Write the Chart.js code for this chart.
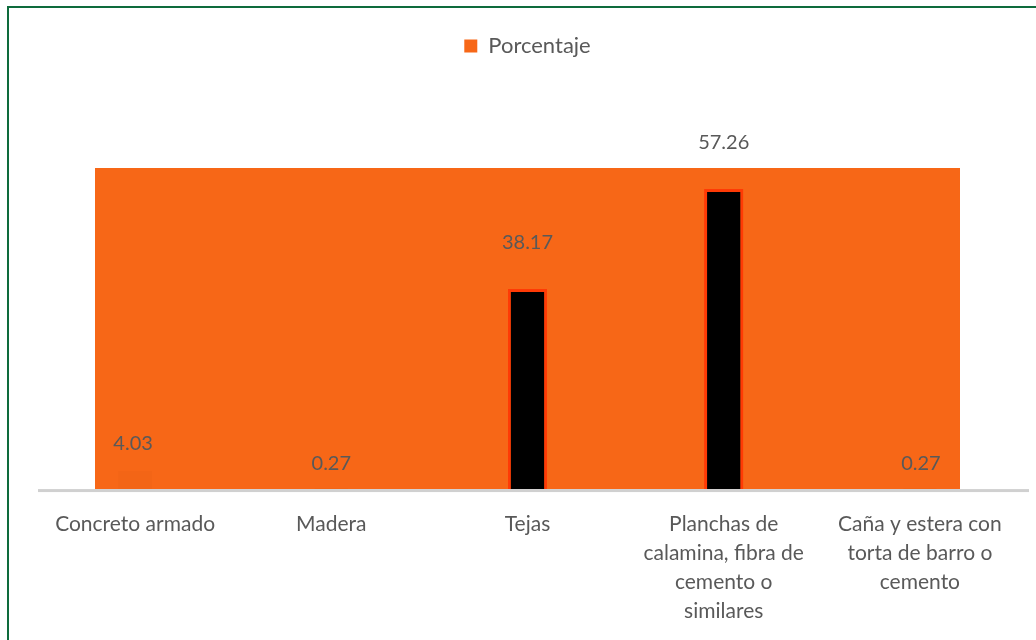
<!DOCTYPE html>
<html>
<head>
<meta charset="utf-8">
<script src="https://cdn.jsdelivr.net/npm/chart.js@4/dist/chart.umd.min.js"></script>
<style>
    html, body { margin: 0; padding: 0; background: #fff; }
    #wrap { position: relative; width: 1036px; height: 640px; overflow: hidden; }
    #frame {
        position: absolute; left: 7px; top: 6px; width: 1100px; height: 700px;
        border: 2px solid #0e6b3c; box-sizing: border-box;
    }
    canvas { position: absolute; left: 0; top: 0; }
</style>
</head>
<body>
<div id="wrap">
    <div id="frame"></div>
    <canvas id="roof-chart" width="1036" height="640"></canvas>
</div>
<script>
const categories = [
    'Concreto armado',
    'Madera',
    'Tejas',
    ['Planchas de', 'calamina, fibra de', 'cemento o', 'similares'],
    ['Caña y estera con', 'torta de barro o', 'cemento']
];
const porcentaje = [4.03, 0.27, 38.17, 57.26, 0.27];
const yMax = 61.25;

const labelColor = '#595959';
const fontFamily = 'Lato, "Open Sans", sans-serif';

// orange plot area fill, grey baseline, value labels
const chartDecor = {
    id: 'chartDecor',
    beforeInit(chart) {
        const fit = chart.legend.fit;
        chart.legend.fit = function() {
            fit.bind(chart.legend)();
            this.height += 101;
        };
    },
    beforeDatasetsDraw(chart) {
        const { ctx, chartArea: a } = chart;
        ctx.save();
        ctx.fillStyle = '#f76717';
        ctx.fillRect(a.left + 58, a.top, a.right - a.left - 116, a.bottom - a.top);
        ctx.restore();
    },
    afterDatasetsDraw(chart) {
        const { ctx, chartArea: a } = chart;
        ctx.save();
        ctx.fillStyle = '#d0d0d0';
        ctx.fillRect(a.left + 1, a.bottom, a.right - a.left + 10, 3);

        const meta = chart.getDatasetMeta(0);
        ctx.font = '20px ' + fontFamily;
        ctx.fillStyle = labelColor;
        ctx.textAlign = 'center';
        ctx.textBaseline = 'middle';
        meta.data.forEach((bar, i) => {
            const h = bar.base - bar.y;
            const off = h > 50 ? 46 : 24;
            let x = bar.x;
            if (i === 0) x = bar.x - 2;
            if (i === 4) x = bar.x + 1;
            ctx.fillText(porcentaje[i].toFixed(2), x, bar.y - off);
        });
        ctx.restore();
    }
};

const ctx = document.getElementById('roof-chart').getContext('2d');

new Chart(ctx, {
    type: 'bar',
    data: {
        labels: categories,
        datasets: [{
            label: 'Porcentaje',
            data: porcentaje,
            backgroundColor: c => c.raw > 10 ? '#000000' : 'rgba(210, 90, 20, 0.12)',
            borderColor: c => c.raw > 10 ? '#ff3a05' : 'rgba(0,0,0,0)',
            borderWidth: 3,
            barPercentage: 0.2,
            categoryPercentage: 1
        }]
    },
    options: {
        responsive: false,
        animation: false,
        layout: {
            padding: { left: 37, right: 18, top: 29, bottom: -7 }
        },
        scales: {
            x: {
                grid: { display: false, drawTicks: false },
                border: { display: false },
                ticks: {
                    color: labelColor,
                    padding: 21,
                    maxRotation: 0,
                    autoSkip: false,
                    font: { family: fontFamily, size: 21, lineHeight: 1.38 }
                }
            },
            y: {
                display: false,
                min: 0,
                max: yMax
            }
        },
        plugins: {
            legend: {
                position: 'top',
                labels: {
                    color: labelColor,
                    boxWidth: 13,
                    boxHeight: 13,
                    padding: 6,
                    font: { family: fontFamily, size: 22 },
                    generateLabels: () => [{
                        text: 'Porcentaje',
                        fillStyle: '#f76717',
                        strokeStyle: '#f76717',
                        lineWidth: 0,
                        fontColor: labelColor
                    }]
                }
            },
            tooltip: { enabled: false }
        }
    },
    plugins: [chartDecor]
});
</script>
</body>
</html>
